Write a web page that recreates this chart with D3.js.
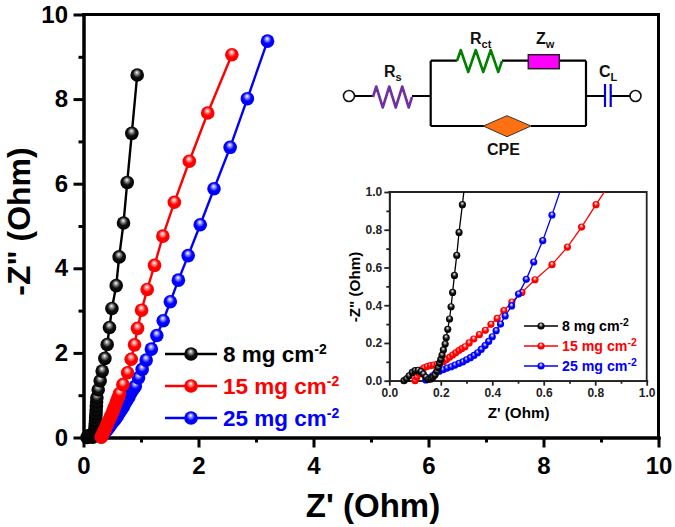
<!DOCTYPE html>
<html><head><meta charset="utf-8">
<script src="https://cdnjs.cloudflare.com/ajax/libs/d3/7.8.5/d3.min.js"></script>
<style>html,body{margin:0;padding:0;background:#fff}svg{display:block}text{font-family:"Liberation Sans",Arial,sans-serif;font-weight:bold}</style>
</head><body><svg id="c" width="675" height="527"></svg>
<script>
const seriesNames = ["8 mg cm","15 mg cm","25 mg cm"];
const seriesColors = ["#000000","#ff0000","#0000ff"];
const mainTicks = [0,2,4,6,8,10];
const mainMinor = [1,3,5,7,9];
const insetTicks = [0,0.2,0.4,0.6,0.8,1.0];
const insetMinor = [0.1,0.3,0.5,0.7,0.9];

const main8 = [[0.06,0],[0.07,0.01],[0.08,0.02],[0.09,0.035],[0.1,0.045],[0.115,0.05],[0.13,0.04],[0.145,0.02],[0.16,0.01],[0.175,0.03],[0.185,0.06],[0.19,0.1],[0.195,0.15],[0.2,0.2],[0.203,0.26],[0.206,0.33],[0.21,0.4],[0.213,0.48],[0.217,0.56],[0.22,0.65],[0.224,0.74],[0.228,0.84],[0.233,0.94],[0.256,1.13],[0.29,1.34],[0.325,1.57],[0.372,1.87],[0.412,2.2],[0.452,2.6],[0.494,3.05],[0.569,3.59],[0.62,4.27],[0.696,5.07],[0.76,6.03],[0.84,7.19],[0.934,8.57]];
const main15 = [[0.31,0.01],[0.32,0.04],[0.335,0.08],[0.35,0.13],[0.37,0.18],[0.39,0.24],[0.405,0.29],[0.42,0.35],[0.44,0.4],[0.46,0.46],[0.48,0.52],[0.5,0.58],[0.52,0.64],[0.535,0.71],[0.56,0.79],[0.58,0.87],[0.605,0.95],[0.627,1.04],[0.685,1.25],[0.766,1.53],[0.83,1.85],[0.887,2.19],[0.94,2.58],[1.01,3.01],[1.108,3.5],[1.235,4.07],[1.38,4.76],[1.58,5.56],[1.84,6.53],[2.16,7.67],[2.58,9.05]];
const main25 = [[0.31,0.02],[0.33,0.05],[0.36,0.11],[0.39,0.15],[0.42,0.2],[0.455,0.26],[0.49,0.33],[0.525,0.39],[0.56,0.45],[0.59,0.51],[0.62,0.58],[0.655,0.65],[0.69,0.72],[0.72,0.8],[0.755,0.88],[0.79,0.96],[0.82,1.05],[0.86,1.13],[0.9,1.21],[0.957,1.41],[1.02,1.61],[1.09,1.83],[1.18,2.09],[1.275,2.41],[1.386,2.76],[1.51,3.21],[1.65,3.72],[1.82,4.3],[2.03,5.03],[2.27,5.88],[2.55,6.86],[2.85,8.01],[3.2,9.37]];

const inset8 = [[0.057,0],[0.067,0.01],[0.077,0.026],[0.089,0.044],[0.1,0.053],[0.112,0.055],[0.123,0.048],[0.132,0.035],[0.142,0.018],[0.152,0.007],[0.161,0.009],[0.169,0.018],[0.177,0.03],[0.185,0.05],[0.19,0.07],[0.195,0.092],[0.2,0.113],[0.205,0.136],[0.21,0.163],[0.217,0.194],[0.221,0.228],[0.227,0.272],[0.234,0.327],[0.24,0.392],[0.246,0.468],[0.253,0.558],[0.262,0.664],[0.271,0.786],[0.284,0.933],[0.296,1.08]];
const inset15 = [[0.1,0],[0.107,0.02],[0.115,0.04],[0.125,0.058],[0.135,0.068],[0.147,0.075],[0.16,0.08],[0.172,0.083],[0.185,0.087],[0.198,0.094],[0.21,0.102],[0.222,0.112],[0.234,0.124],[0.246,0.136],[0.258,0.148],[0.27,0.16],[0.282,0.17],[0.294,0.18],[0.31,0.2],[0.328,0.221],[0.35,0.244],[0.373,0.267],[0.395,0.299],[0.419,0.33],[0.445,0.371],[0.476,0.417],[0.515,0.468],[0.566,0.535],[0.632,0.615],[0.692,0.708],[0.747,0.814],[0.803,0.933],[0.85,1.03]];
const inset25 = [[0.142,0.004],[0.155,0.014],[0.168,0.026],[0.18,0.039],[0.194,0.05],[0.209,0.058],[0.224,0.067],[0.24,0.074],[0.255,0.083],[0.271,0.092],[0.286,0.1],[0.3,0.111],[0.315,0.122],[0.329,0.134],[0.343,0.148],[0.357,0.166],[0.372,0.186],[0.386,0.208],[0.4,0.233],[0.415,0.265],[0.432,0.3],[0.45,0.343],[0.475,0.396],[0.502,0.459],[0.532,0.537],[0.561,0.629],[0.596,0.742],[0.632,0.878],[0.67,1.03]];

const svg = d3.select("#c");
const defs = svg.append("defs");
seriesColors.forEach((c,i)=>{
  const g = defs.append("radialGradient").attr("id","g"+i).attr("cx","0.5").attr("cy","0.45").attr("r","0.55").attr("fx","0.47").attr("fy","0.3");
  g.append("stop").attr("offset","0").attr("stop-color","#fff");
  g.append("stop").attr("offset","0.22").attr("stop-color",i==0?"#999":c==="#ff0000"?"#ff9999":"#9999ff");
  g.append("stop").attr("offset","0.55").attr("stop-color",i==0?"#111":c);
  g.append("stop").attr("offset","1").attr("stop-color",c);
});

function panel(o){
  const x = d3.scaleLinear().domain(o.dom).range([o.l,o.r]);
  const y = d3.scaleLinear().domain(o.dom).range([o.b,o.t]);
  const g = svg.append("g");
  const style = a => { a.selectAll("path,line").attr("stroke",o.axisColor).attr("stroke-width",o.sw); a.select(".domain").attr("stroke-linecap","square"); };
  const ax = (gen,tr,ticks,size,lab) => {
    const a = g.append("g").attr("transform",tr).call(gen.tickValues(ticks).tickSize(size).tickSizeOuter(0).tickFormat(lab));
    style(a); a.selectAll("text").attr("font-size",o.fs).attr("font-family","Liberation Sans").attr("font-weight","bold").attr("fill",o.axisColor);
    return a;
  };
  const fmt = o.fmt;
  ax(d3.axisBottom(x),`translate(0,${o.b})`,o.minor,o.minorLen,"");
  ax(d3.axisLeft(y),`translate(${o.l},0)`,o.minor,o.minorLen,"");
  const bx = ax(d3.axisBottom(x),`translate(0,${o.b})`,o.ticks,o.majorLen,fmt);
  const by = ax(d3.axisLeft(y),`translate(${o.l},0)`,o.ticks,o.majorLen,fmt);
  bx.selectAll("text").attr("dy",o.xdy);
  by.selectAll("text").attr("dx",o.ydx);
  g.append("path").attr("d",`M${o.l},${o.t}H${o.r}V${o.b}`).attr("fill","none").attr("stroke",o.axisColor).attr("stroke-width",o.sw).attr("stroke-linecap","square");
  g.append("text").attr("x",o.xtx).attr("y",o.xty).attr("text-anchor","middle").attr("font-size",o.tfs).text("Z' (Ohm)");
  g.append("text").attr("transform",`translate(${o.ytx},${o.yty}) rotate(-90)`).attr("text-anchor","middle").attr("font-size",o.ytfs).text('-Z" (Ohm)');
  const clip = "cp"+o.id;
  defs.append("clipPath").attr("id",clip).append("rect").attr("x",o.l).attr("y",o.t).attr("width",o.r-o.l).attr("height",o.b-o.t);
  const line = d3.line().x(d=>x(d[0])).y(d=>y(d[1]));
  o.order.forEach(i=>{
    const d = o.data[i];
    const s = g.append("g").attr("clip-path",o.clipLine?`url(#${clip})`:null);
    s.append("path").attr("d",line(d)).attr("fill","none").attr("stroke",seriesColors[i]).attr("stroke-width",o.lw);
    const mk = g.append("g");
    mk.selectAll("circle").data(d.filter(p=>p[1]<=o.dom[1])).join("circle").attr("cx",p=>x(p[0])).attr("cy",p=>y(p[1])).attr("r",o.mr).attr("fill",`url(#g${i})`);
  });
  seriesNames.forEach((n,i)=>{
    const ly = o.leg.y[i];
    g.append("line").attr("x1",o.leg.x1).attr("x2",o.leg.x2).attr("y1",ly).attr("y2",ly).attr("stroke",seriesColors[i]).attr("stroke-width",o.lw);
    g.append("circle").attr("cx",(o.leg.x1+o.leg.x2)/2).attr("cy",ly).attr("r",o.mr).attr("fill",`url(#g${i})`);
    const t = g.append("text").attr("x",o.leg.tx).attr("y",ly+o.leg.fs*0.36).attr("font-size",o.leg.fs).attr("fill",seriesColors[i]).text(n);
    t.append("tspan").attr("dy",-o.leg.fs*0.38).attr("font-size",o.leg.sup).text("-2");
  });
}

panel({id:"m",dom:[0,10],l:83.5,r:658.5,t:14.5,b:437.5,axisColor:"#000",sw:3,fs:24,tfs:33,ytfs:32,lw:2.4,mr:6.8,
  ticks:mainTicks,minor:mainMinor,majorLen:10,minorLen:5,fmt:d=>d3.format("d")(d),xdy:"0.96em",ydx:"-2.5",
  xtx:373,xty:517,ytx:29.5,yty:221.5,order:[0,2,1],clipLine:false,
  data:[main8,main15,main25],
  leg:{x1:165,x2:217,tx:223,fs:22.5,sup:14,y:[354,386,418]}});

panel({id:"i",dom:[0,1],l:389.3,r:646.7,t:192,b:380.7,axisColor:"#222",sw:1.8,fs:12,tfs:15.2,ytfs:15.2,lw:1.3,mr:3.6,
  ticks:insetTicks,minor:insetMinor,majorLen:5,minorLen:3,fmt:d=>d3.format(".1f")(d),xdy:"0.69em",ydx:"1",
  xtx:518.6,xty:418,ytx:360,yty:287,order:[1,2,0],clipLine:true,
  data:[inset8,inset15,inset25],
  leg:{x1:524,x2:558,tx:562,fs:14.2,sup:10.5,y:[326,346,366]}});

// Equivalent-circuit schematic
const cg = svg.append("g").attr("fill","none");
const wire = d => cg.append("path").attr("d",d).attr("stroke","#000").attr("stroke-width",2.2);
wire("M355,96H373M412,96H430.7M430.7,60.7V126M430.7,60.7H457M502,60.7H529M559,60.7H586M586,60.7V126M430.7,126H484M531,126H586M586,96H605M611,96H630");
const zig = (x0,x1,y,h,n)=>{const s=(x1-x0)/(2*n);const pts=[[x0,y]];for(let i=0;i<2*n;i++){pts.push([x0+s*(i+.5),y+(i%2?h:-h)]);}pts.push([x1,y]);return d3.line()(pts);};
cg.append("path").attr("d",zig(373,412,97,10.5,3)).attr("stroke","#7030a0").attr("stroke-width",2.6).attr("stroke-linejoin","round");
cg.append("path").attr("d",zig(457,502,61,11,3)).attr("stroke","#008000").attr("stroke-width",2.6).attr("stroke-linejoin","round");
cg.append("rect").attr("x",528.3).attr("y",54.7).attr("width",31).attr("height",14).attr("fill","#ff00ff").attr("stroke","#222").attr("stroke-width",1.5);
cg.append("path").attr("d","M483.3,126L507,115.7L531,126L507,136.7Z").attr("fill","#ff7010").attr("stroke","#333").attr("stroke-width",1);
cg.append("path").attr("d","M605,84V107M610.7,84V107").attr("stroke","#0000e0").attr("stroke-width",2.2);
cg.append("circle").attr("cx",349).attr("cy",96).attr("r",5.5).attr("fill","#fff").attr("stroke","#111").attr("stroke-width",1.6);
cg.append("circle").attr("cx",635.5).attr("cy",96).attr("r",5.5).attr("fill","#fff").attr("stroke","#111").attr("stroke-width",1.6);
const lab = (x,y,t,sub) => { const e = svg.append("text").attr("x",x).attr("y",y).attr("font-size",16).attr("fill","#111").text(t); if(sub) e.append("tspan").attr("dy",3.5).attr("font-size",11).text(sub); };
lab(384,77,"R","s");
lab(470,44,"R","ct");
lab(536,44,"Z","w");
lab(599,77,"C","L");
lab(487,155,"CPE");
</script></body></html>
